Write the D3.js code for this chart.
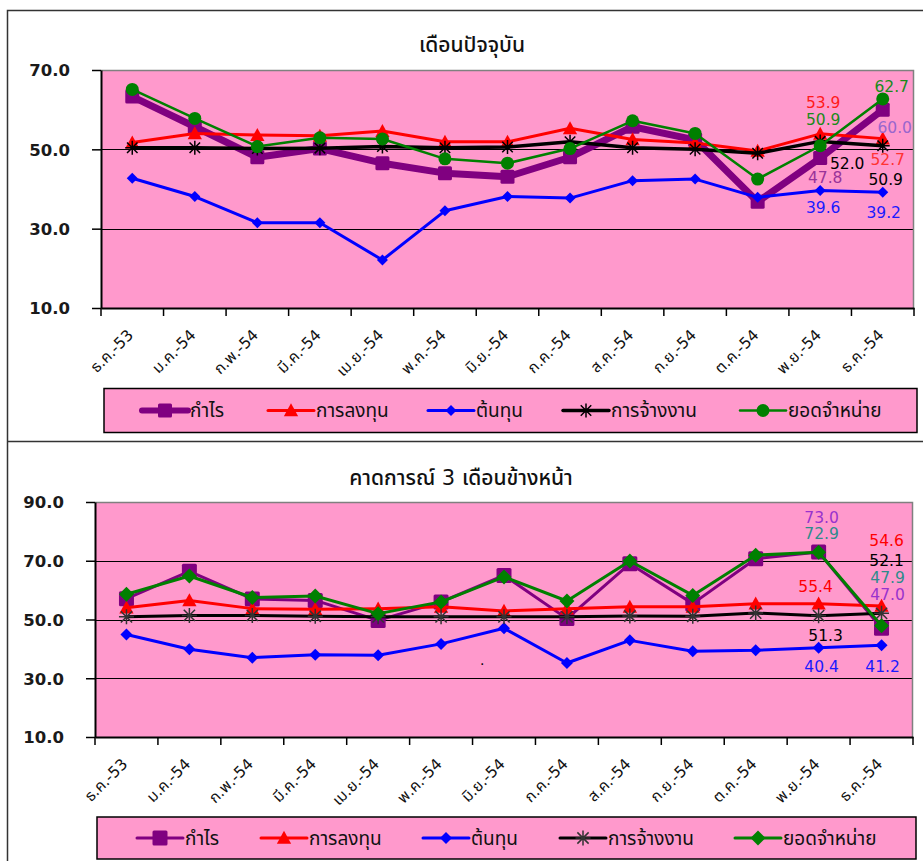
<!DOCTYPE html>
<html><head><meta charset="utf-8">
<script src="https://cdn.jsdelivr.net/npm/d3@7/dist/d3.min.js"></script>
<style>
body{margin:0;background:#fff;}
text{font-family:"DejaVu Sans","Noto Sans Thai","Noto Sans",sans-serif;}
</style></head>
<body><svg id="c" width="923" height="861"></svg>
<script>
const categories = ["ธ.ค.-53","ม.ค.-54","ก.พ.-54","มี.ค.-54","เม.ย.-54","พ.ค.-54","มิ.ย.-54","ก.ค.-54","ส.ค.-54","ก.ย.-54","ต.ค.-54","พ.ย.-54","ธ.ค.-54"];
const seriesNames = ["กำไร","การลงทุน","ต้นทุน","การจ้างงาน","ยอดจำหน่าย"];

// Chart 1: เดือนปัจจุบัน
const cur_profit = [63.3,55.7,48.0,50.2,46.5,44.0,43.1,48.0,55.7,52.4,36.8,47.8,60.0];
const cur_invest = [51.7,54.0,53.6,53.4,54.6,51.9,51.9,55.3,52.5,51.6,49.6,53.9,52.7];
const cur_cost   = [42.7,38.1,31.5,31.5,22.1,34.5,38.1,37.7,42.1,42.5,37.9,39.6,39.2];
const cur_employ = [50.4,50.4,50.2,50.3,50.7,50.4,50.6,51.9,50.4,50.0,49.0,52.0,50.9];
const cur_sales  = [65.1,57.8,50.7,52.9,52.6,47.6,46.5,50.2,57.2,54.0,42.5,50.9,62.7];
const cur_ticks  = [10,30,50,70];

// Chart 2: คาดการณ์ 3 เดือนข้างหน้า
const fc_profit = [57.1,66.4,57.0,56.5,49.7,56.0,65.0,50.3,69.0,55.4,70.7,73.0,47.0];
const fc_invest = [54.0,56.5,53.7,53.5,53.7,54.3,52.9,53.7,54.3,54.3,55.4,55.4,54.6];
const fc_cost   = [44.9,39.9,37.0,38.0,37.8,41.7,47.0,35.2,42.9,39.2,39.5,40.4,41.2];
const fc_employ = [50.9,51.4,51.4,51.1,50.9,50.9,50.9,50.9,51.2,51.1,52.2,51.3,52.1];
const fc_sales  = [58.6,64.8,57.5,58.0,52.0,56.0,64.5,56.3,69.9,58.2,71.9,72.9,47.9];
const fc_ticks  = [10,30,50,70,90];

const svg = d3.select("#c");
svg.append("rect").attr("width",923).attr("height",861).attr("fill","#fff");

// outer frames
svg.append("path").attr("d","M7.5,861 V10.5 H923").attr("fill","none").attr("stroke","#333").attr("stroke-width",1.5);
svg.append("line").attr("x1",7).attr("x2",923).attr("y1",441.5).attr("y2",441.5).attr("stroke","#333").attr("stroke-width",1.5);

function asterisk(g, size, color, sw){
  const r = size/2, d = r*0.75;
  const p = `M${-r},0H${r}M${-d},${-d}L${d},${d}M${-d},${d}L${d},${-d}M0,${-r}V${r}`;
  g.append("path").attr("d",p).attr("stroke",color).attr("stroke-width",sw).attr("fill","none");
}
function marker(g, type, cfg){
  if(type==="square"){
    g.append("rect").attr("x",-cfg.s/2).attr("y",-cfg.s/2).attr("width",cfg.s).attr("height",cfg.s).attr("rx",1.5).attr("fill",cfg.color);
  } else if(type==="circle"){
    g.append("circle").attr("r",cfg.s/2).attr("fill",cfg.color);
  } else if(type==="triangle"){
    const s=cfg.s;
    g.append("path").attr("d",`M0,${-s*0.55}L${s*0.55},${s*0.45}L${-s*0.55},${s*0.45}Z`).attr("fill",cfg.color);
  } else if(type==="diamond"){
    const s=cfg.s/2;
    g.append("path").attr("d",`M0,${-s}L${s},0L0,${s}L${-s},0Z`).attr("fill",cfg.color);
  } else if(type==="asterisk"){
    asterisk(g,cfg.s,cfg.mcolor||cfg.color,cfg.msw||1.5);
  }
}

function drawChart(o){
  const g = svg.append("g");
  const x = d3.scaleBand().domain(categories).range([o.left,o.right]);
  const y = d3.scaleLinear().domain(o.domain).range([o.bottom,o.top]);
  // plot area
  g.append("rect").attr("x",o.left).attr("y",o.top).attr("width",o.right-o.left).attr("height",o.bottom-o.top).attr("fill","#FF99CC");
  // gridlines
  g.selectAll(".grid").data(o.ticks.filter(t=>t!==o.domain[0]&&t!==o.domain[1])).enter().append("line")
    .attr("x1",o.left).attr("x2",o.right).attr("y1",d=>Math.round(y(d))+0.5).attr("y2",d=>Math.round(y(d))+0.5)
    .attr("stroke","#000").attr("stroke-width",1);
  // top/right border
  g.append("path").attr("d",`M${o.left},${o.top+0.5}H${o.right-0.5}V${o.bottom}`).attr("fill","none").attr("stroke","#808080").attr("stroke-width",1.5);
  // y axis
  const ya = d3.axisLeft(y).tickValues(o.ticks).tickSize(9).tickSizeOuter(0).tickPadding(22).tickFormat(d3.format(".1f"));
  const yg = g.append("g").attr("transform",`translate(${o.left},0)`).call(ya);
  yg.select(".domain").attr("stroke","#000").attr("stroke-width",2);
  yg.selectAll(".tick line").attr("stroke","#000").attr("stroke-width",1.5);
  yg.selectAll(".tick text").attr("font-size",16.5).attr("font-weight","bold").attr("fill","#1a1a1a").attr("dy","0.36em");
  // x axis
  const xa = d3.axisBottom(x).tickSize(0).tickFormat("");
  const xg = g.append("g").attr("transform",`translate(0,${o.bottom})`).call(xa);
  xg.select(".domain").attr("stroke","#000").attr("stroke-width",2);
  const bounds = categories.map(c=>x(c)).concat([o.right]);
  g.selectAll(".xt").data(bounds).enter().append("line")
    .attr("x1",d=>d).attr("x2",d=>d).attr("y1",o.bottom).attr("y2",o.bottom+8).attr("stroke","#000").attr("stroke-width",1.5);
  g.selectAll(".xl").data(categories).enter().append("text")
    .attr("transform",d=>`translate(${x(d)+x.bandwidth()/2+2},${o.bottom+28}) rotate(-45)`)
    .attr("text-anchor","end").attr("font-size",15.5).attr("fill","#111").text(d=>d);
  // title
  g.append("text").attr("x",o.titleX).attr("y",o.titleY).attr("text-anchor","middle").attr("font-size",21).attr("font-weight",500).attr("fill","#111").text(o.title);

  const cx = c=>x(c)+x.bandwidth()/2;
  const line = d3.line().x((d,i)=>cx(categories[i])).y(d=>y(d));
  o.series.forEach(s=>{
    g.append("path").datum(s.values).attr("d",line).attr("fill","none").attr("stroke",s.color).attr("stroke-width",s.lw).attr("stroke-linejoin","round");
    s.values.forEach((v,i)=>{
      const mg = g.append("g").attr("transform",`translate(${cx(categories[i])},${y(v)})`);
      marker(mg,s.marker,s);
    });
  });
  // data labels
  o.series.forEach(s=>{
    (s.labels||[]).forEach(l=>{
      const v = s.values[l.i];
      g.append("text").attr("x",cx(categories[l.i])+l.dx).attr("y",y(v)+l.dy).attr("dy","0.36em")
        .attr("text-anchor","middle").attr("font-size",15.5).attr("fill",l.color||s.color).text(d3.format(".1f")(v));
    });
  });
  // legend
  const lg = g.append("g");
  lg.append("rect").attr("x",o.legend.x).attr("y",o.legend.y).attr("width",o.legend.w).attr("height",o.legend.h)
    .attr("fill","#FF99CC").attr("stroke","#000").attr("stroke-width",1.5);
  const cy = o.legend.y+o.legend.h/2;
  o.series.forEach((s,k)=>{
    const lx = o.legend.items[k];
    lg.append("line").attr("x1",lx).attr("x2",lx+46).attr("y1",cy).attr("y2",cy).attr("stroke",s.color).attr("stroke-width",s.legLw||s.lw).attr("stroke-linecap","round");
    const mg = lg.append("g").attr("transform",`translate(${lx+23},${cy})`);
    marker(mg,s.marker,s);
    lg.append("text").attr("x",lx+48).attr("y",cy).attr("dy","0.36em").attr("font-size",19).attr("fill","#111").text(seriesNames[k]);
  });
}

drawChart({
  left:101,right:914,top:70,bottom:308,domain:[10,70],ticks:cur_ticks,
  title:"เดือนปัจจุบัน",titleX:472,titleY:52,
  legend:{x:104,y:388.5,w:813,h:44,items:[142,268,428,563,740]},
  series:[
    {values:cur_profit,color:"#800080",lw:7,legLw:6,marker:"square",s:14,labels:[{i:11,dx:5,dy:19,color:"#993399"},{i:12,dx:12,dy:18,color:"#9966CC"}]},
    {values:cur_invest,color:"#FF0000",lw:3,marker:"triangle",s:13,labels:[{i:11,dx:3,dy:-31,color:"#FF1a1a"},{i:12,dx:5,dy:21,color:"#FF3333"}]},
    {values:cur_cost,color:"#0000FF",lw:3,marker:"diamond",s:11,labels:[{i:11,dx:3,dy:17,color:"#1a1aFF"},{i:12,dx:1,dy:20,color:"#1a1aFF"}]},
    {values:cur_employ,color:"#000000",lw:3.5,marker:"asterisk",s:14,msw:1.5,labels:[{i:11,dx:27,dy:22},{i:12,dx:3,dy:34}]},
    {values:cur_sales,color:"#008000",lw:2.5,marker:"circle",s:13,labels:[{i:11,dx:3,dy:-26,color:"#1a8a1a"},{i:12,dx:9,dy:-13,color:"#1a8a1a"}]}
  ]
});

drawChart({
  left:95,right:913,top:502,bottom:737,domain:[10,90],ticks:fc_ticks,
  title:"คาดการณ์ 3 เดือนข้างหน้า",titleX:461,titleY:485,
  legend:{x:97,y:817,w:819,h:42,items:[137,261,423,560,735]},
  series:[
    {values:fc_profit,color:"#800080",lw:3,marker:"square",s:15,labels:[{i:11,dx:3,dy:-35,color:"#9933CC"},{i:12,dx:6,dy:-34,color:"#9933CC"}]},
    {values:fc_invest,color:"#FF0000",lw:3,marker:"triangle",s:13,labels:[{i:11,dx:-3,dy:-17},{i:12,dx:5,dy:-66}]},
    {values:fc_cost,color:"#0000FF",lw:3,marker:"diamond",s:12,labels:[{i:11,dx:3,dy:19,color:"#1a1aFF"},{i:12,dx:1,dy:21,color:"#1a1aFF"}]},
    {values:fc_employ,color:"#000000",lw:3,marker:"asterisk",s:15,mcolor:"#333",msw:1.5,labels:[{i:11,dx:7,dy:20},{i:12,dx:5,dy:-53}]},
    {values:fc_sales,color:"#008000",lw:3,marker:"diamond",s:15,labels:[{i:11,dx:3,dy:-19,color:"#2E8B8B"},{i:12,dx:6,dy:-48,color:"#2E8B8B"}]}
  ]
});
// stray dot in reference
svg.append("text").attr("x",480).attr("y",665).attr("font-size",14).attr("fill","#000").text(".");
</script></body></html>
